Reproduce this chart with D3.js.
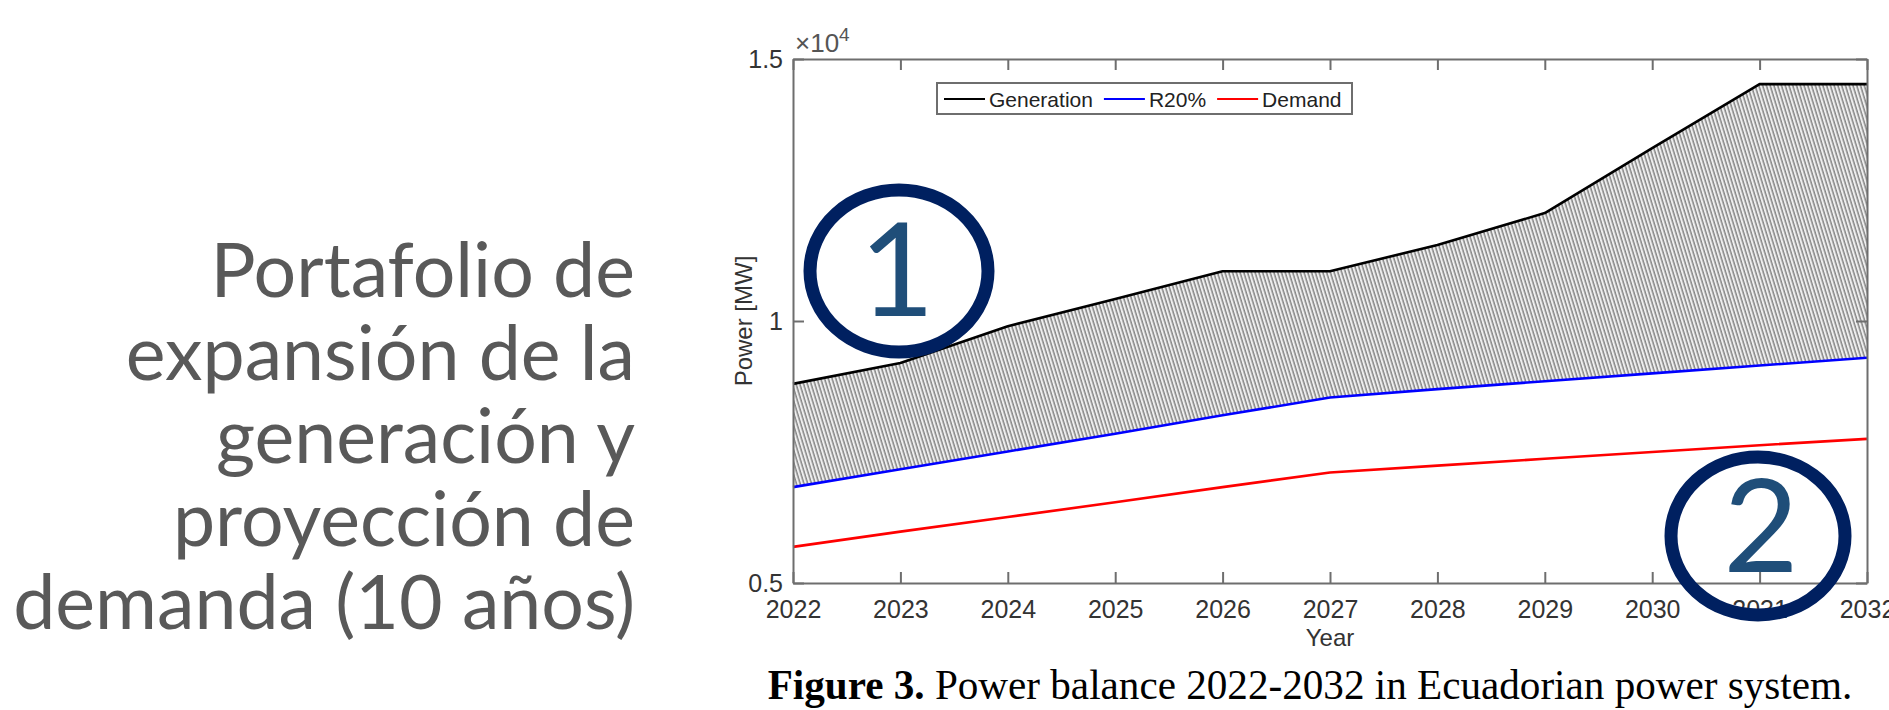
<!DOCTYPE html>
<html>
<head>
<meta charset="utf-8">
<script src="https://cdn.jsdelivr.net/npm/d3@7"></script>
<style>
  body { margin: 0; background: #fff; }
  svg { display: block; }
</style>
</head>
<body>
<script>
// chart data
var years = [2022, 2023, 2024, 2025, 2026, 2027, 2028, 2029, 2030, 2031, 2032];
var generation = [8800, 9200, 9900, 10420, 10950, 10950, 11450, 12060, 13300, 14520, 14520];
var r20 = [6830, 7170, 7510, 7850, 8200, 8540, 8700, 8850, 9000, 9150, 9300];
var demand = [5690, 5980, 6260, 6540, 6830, 7110, 7240, 7370, 7500, 7630, 7750];

var yTicks = [5000, 10000, 15000];
var yTickLabels = ["0.5", "1", "1.5"];
var legendLabels = ["Generation", "R20%", "Demand"];
var seriesColors = ["#000000", "#0000ff", "#ff0000"];
var sideText = ["Portafolio de", "expansión de la", "generación y", "proyección de", "demanda (10 años)"];
var captionBold = "Figure 3.";
var captionRest = " Power balance 2022-2032 in Ecuadorian power system.";

// page layout
var p = {
    width: 1889,
    height: 710,
    left: 793,
    right: 1867,
    top: 59,
    bottom: 583,
    axisColor: "#6e6e6e",
    textColor: "#333333",
    tick: 11
};

var svg = d3.select("body").append("svg")
    .attr("width", p.width).attr("height", p.height);

var x = d3.scaleLinear().domain([2022, 2032]).range([p.left, p.right]);
var y = d3.scaleLinear().domain([5000, 15000]).range([p.bottom, p.top]);

// hatch pattern for the reserve band
var defs = svg.append("defs");
var pat = defs.append("pattern")
    .attr("id", "hatch")
    .attr("patternUnits", "userSpaceOnUse")
    .attr("width", 3.6).attr("height", 20)
    .attr("patternTransform", "rotate(-17)");
pat.append("rect").attr("width", 3.6).attr("height", 20).attr("fill", "#eeeeee");
pat.append("line")
    .attr("x1", 1).attr("y1", 0).attr("x2", 1).attr("y2", 20)
    .attr("stroke", "#4a4a4a").attr("stroke-width", 0.95);

var band = years.map(function(d, i) { return { year: d, lo: r20[i], hi: generation[i] }; });

svg.append("path")
    .datum(band)
    .attr("fill", "url(#hatch)")
    .attr("d", d3.area()
        .x(function(d) { return x(d.year); })
        .y0(function(d) { return y(d.lo); })
        .y1(function(d) { return y(d.hi); }));

// the three lines
var series = [generation, r20, demand];
series.forEach(function(vals, k) {
    svg.append("path")
        .datum(vals)
        .attr("fill", "none")
        .attr("stroke", seriesColors[k])
        .attr("stroke-width", 2.6)
        .attr("stroke-linejoin", "round")
        .attr("d", d3.line()
            .x(function(d, i) { return x(years[i]); })
            .y(function(d) { return y(d); }));
});

// axes, ticks pointing inwards on all four sides
function styleAxis(g) {
    g.selectAll("path, line").attr("stroke", p.axisColor).attr("stroke-width", 2);
    g.selectAll("text").attr("fill", p.textColor)
        .style("font-family", "'Liberation Sans', Arial, sans-serif")
        .style("font-size", "25px");
}

svg.append("g")
    .attr("transform", "translate(0," + p.bottom + ")")
    .call(d3.axisBottom(x).tickValues(years).tickFormat(d3.format("d"))
        .tickSizeInner(-p.tick).tickSizeOuter(0).tickPadding(17))
    .call(styleAxis);

svg.append("g")
    .attr("transform", "translate(0," + p.top + ")")
    .call(d3.axisTop(x).tickValues(years).tickFormat("")
        .tickSizeInner(-p.tick).tickSizeOuter(0))
    .call(styleAxis);

svg.append("g")
    .attr("transform", "translate(" + p.left + ",0)")
    .call(d3.axisLeft(y).tickValues(yTicks)
        .tickFormat(function(d, i) { return yTickLabels[i]; })
        .tickSizeInner(-p.tick).tickSizeOuter(0).tickPadding(10))
    .call(styleAxis);

svg.append("g")
    .attr("transform", "translate(" + p.right + ",0)")
    .call(d3.axisRight(y).tickValues(yTicks).tickFormat("")
        .tickSizeInner(-p.tick).tickSizeOuter(0))
    .call(styleAxis);

// exponent label
var expo = svg.append("text")
    .attr("x", p.left + 2).attr("y", p.top - 7)
    .attr("fill", "#555")
    .style("font-family", "'Liberation Sans', Arial, sans-serif")
    .style("font-size", "26px");
expo.append("tspan").text("\u00d710");
expo.append("tspan").attr("dy", -11).style("font-size", "19px").text("4");

// axis titles
svg.append("text")
    .attr("transform", "translate(" + 752 + "," + ((p.top + p.bottom) / 2) + ") rotate(-90)")
    .attr("text-anchor", "middle")
    .attr("fill", p.textColor)
    .style("font-family", "'Liberation Sans', Arial, sans-serif")
    .style("font-size", "24px")
    .text("Power [MW]");

svg.append("text")
    .attr("x", (p.left + p.right) / 2).attr("y", 646)
    .attr("text-anchor", "middle")
    .attr("fill", p.textColor)
    .style("font-family", "'Liberation Sans', Arial, sans-serif")
    .style("font-size", "24px")
    .text("Year");

// legend
var leg = svg.append("g");
leg.append("rect")
    .attr("x", 937).attr("y", 83).attr("width", 415).attr("height", 31)
    .attr("fill", "#fff").attr("stroke", p.axisColor).attr("stroke-width", 2);
var legX = 944;
legendLabels.forEach(function(name, k) {
    leg.append("line")
        .attr("x1", legX).attr("x2", legX + 41)
        .attr("y1", 99).attr("y2", 99)
        .attr("stroke", seriesColors[k]).attr("stroke-width", 2);
    var t = leg.append("text")
        .attr("x", legX + 45).attr("y", 106.5)
        .attr("fill", "#222")
        .style("font-family", "'Liberation Sans', Arial, sans-serif")
        .style("font-size", "21px")
        .text(name);
    legX += 45 + t.node().getComputedTextLength() + 11;
});

// caption under the figure, fitted to the width seen in the reference
var cap = svg.append("text")
    .attr("x", 1310).attr("y", 699)
    .attr("text-anchor", "middle")
    .attr("fill", "#000")
    .style("font-family", "'Liberation Serif', 'Times New Roman', serif")
    .style("font-size", "36px");
cap.append("tspan").style("font-weight", "bold").text(captionBold);
cap.append("tspan").text(captionRest);
var capW = cap.node().getComputedTextLength();
cap.style("font-size", (36 * 1085 / capW) + "px");

// side text on the left
var side = svg.append("g")
    .attr("fill", "#595959")
    .style("font-family", "Lato, 'Open Sans', sans-serif")
    .style("font-size", "68px")
    .attr("text-anchor", "end");
var sideNodes = sideText.map(function(line, i) {
    return side.append("text").attr("x", 635).attr("y", 297 + i * 83).text(line);
});
var widest = d3.max(sideNodes, function(n) { return n.node().getComputedTextLength(); });
side.style("font-size", (68 * 622 / widest) + "px");

// numbered circles drawn over the chart
var marks = [
    { cx: 899, cy: 271, rx: 89, ry: 81, label: "1", bx: 897, by: 316 },
    { cx: 1758, cy: 536, rx: 87, ry: 79, label: "2", bx: 1761, by: 572 }
];
marks.forEach(function(m) {
    svg.append("ellipse")
        .attr("cx", m.cx).attr("cy", m.cy).attr("rx", m.rx).attr("ry", m.ry)
        .attr("fill", "none").attr("stroke", "#002060").attr("stroke-width", 13);
    svg.append("text")
        .attr("x", m.bx).attr("y", m.by)
        .attr("text-anchor", "middle")
        .attr("fill", "#1F4E79")
        .style("font-family", "Lato, 'Open Sans', sans-serif")
        .style("font-size", "130px")
        .text(m.label);
});
</script>
</body>
</html>
